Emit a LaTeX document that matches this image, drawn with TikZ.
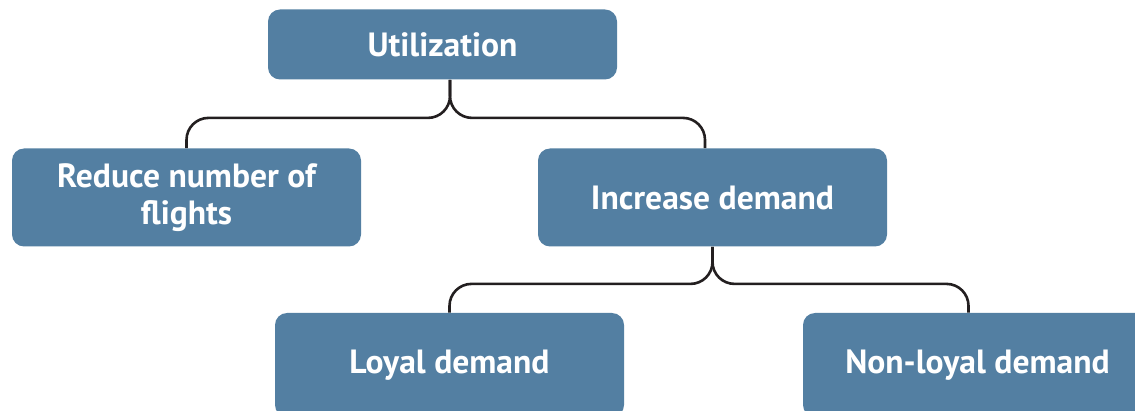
\documentclass[tikz,border=0pt]{standalone}
\usepackage{fontspec}
\setsansfont{PT Sans}
\usepackage{tikz}
\usetikzlibrary{positioning,calc}
\definecolor{boxblue}{RGB}{83,127,162}
\definecolor{linkdark}{RGB}{35,31,32}

\begin{document}
\begin{tikzpicture}[
    x=0.5pt, y=-0.5pt,
    font=\sffamily\bfseries,
    every node/.style={align=center, rounded corners=6pt},
    box/.style={fill=boxblue, text=white, minimum width=174.5pt, minimum height=49pt, font=\fontsize{16.8}{18.5}\selectfont\sffamily\bfseries, inner sep=0pt},
    topbox/.style={box, minimum height=35pt},
    lowbox/.style={box, minimum height=52pt},
    link/.style={draw=linkdark, line width=1.3pt}
  ]

    % Rahmen
    \useasboundingbox (0,0) rectangle (1135,411);

    % oberste Ebene
    \node[topbox] (util) at (442.5,44.5) {Utilization};

    % zweite Ebene
    \node[box] (reduce) at (186.5,197.5) {Reduce number of\\flights};
    \node[box] (increase) at (712.5,197.5) {Increase demand};

    % dritte Ebene (unten abgeschnitten)
    \node[lowbox] (loyal) at (449.5,365) {Loyal demand};
    \node[lowbox] (nonloyal) at (977.5,365) {Non-loyal demand};

    % Verbindungen oben
    \coordinate (utilstem) at ([xshift=3.75pt]util.south);
    \draw[link] (reduce.north) [rounded corners=11pt] |- ([yshift=-19pt]utilstem)
      [rounded corners=7pt] -- (utilstem);
    \draw[link] ([xshift=-3.75pt]increase.north) [rounded corners=11pt] |- ([yshift=-19pt]utilstem)
      [rounded corners=7pt] -- (utilstem);

    % Verbindungen unten
    \draw[link] (loyal.north) [rounded corners=11pt] |- ([yshift=-18.5pt]increase.south)
      [rounded corners=7pt] -- (increase.south);
    \draw[link] ([xshift=-4.5pt]nonloyal.north) [rounded corners=11pt] |- ([yshift=-18.5pt]increase.south)
      [rounded corners=7pt] -- (increase.south);

  \end{tikzpicture}
\end{document}
